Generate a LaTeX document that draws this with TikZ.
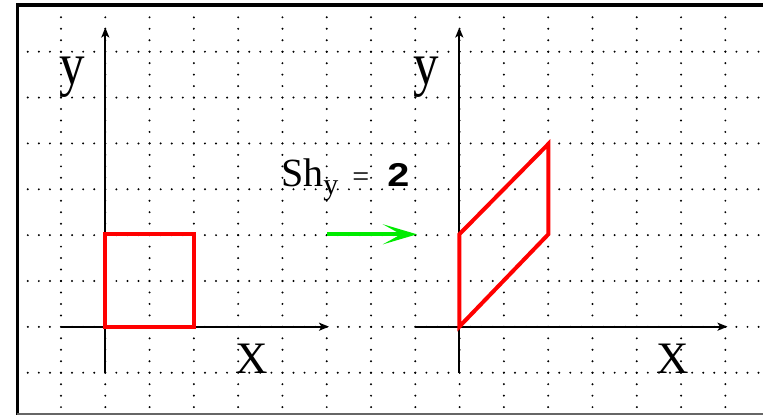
\documentclass[tikz,border=0pt]{standalone}
\usepackage{fontspec}
\setmainfont{Liberation Serif}
\newfontfamily\sansb{Liberation Sans}
\usetikzlibrary{arrows.meta}
\definecolor{shgreen}{RGB}{0,235,0}
\begin{document}
\begin{tikzpicture}[x=1pt,y=-1pt,
  gdot/.style={fill=black},
  axisline/.style={line width=2.2pt,-{Stealth[length=10pt,width=8pt,inset=2.5pt]}},
  redshape/.style={draw=red,line width=4pt,line join=miter},
  biglabel/.style={inner sep=0pt,anchor=center},
  moveArrow/.style={draw=shgreen,line width=3.8pt,-{Stealth[length=34pt,width=20pt,inset=18pt]}}]
\useasboundingbox (0,0) rectangle (763,416);
\fill[white] (0,0) rectangle (763,416);
% frame
\draw[line width=4pt] (16,5.3) -- (763,5.3);
\draw[line width=2.4pt] (17.3,3.3) -- (17.3,415);
\draw[line width=2pt,black!60] (16.5,414) -- (763,414);
% dotted grid
\foreach \i in {0,...,15}{
  \pgfmathsetmacro\xx{61+44.29*\i}
  \foreach \k in {-3,...,31}{
    \fill[gdot] (\xx,{51.7+45.86*\k/4}) circle (1.1);
  }
}
\foreach \j in {0,...,7}{
  \pgfmathsetmacro\yy{51.7+45.86*\j}
  \foreach \k in {-3,...,63}{
    \fill[gdot] ({61+44.29*\k/4},\yy) circle (1.1);
  }
}
% axes (left)
\coordinate (LyB) at (105.3,372.7);
\coordinate (LyT) at (105.3,27.5);
\coordinate (LxL) at (61,326.7);
\coordinate (LxR) at (329,326.7);
% axes (right)
\coordinate (RyB) at (459.3,372.7);
\coordinate (RyT) at (459.3,27.5);
\coordinate (RxL) at (415.7,326.7);
\coordinate (RxR) at (727.5,326.7);
\draw[axisline] (LyB) -- (LyT);
\draw[axisline] (LxL) -- (LxR);
\draw[axisline] (RyB) -- (RyT);
\draw[axisline] (RxL) -- (RxR);
% red shapes
\coordinate (SqA) at (105.3,326.7);
\coordinate (SqB) at (194,326.7);
\coordinate (SqC) at (194,234.3);
\coordinate (SqD) at (105.3,234.3);
\draw[redshape] (SqA) -- (SqB) -- (SqC) -- (SqD) -- cycle;
\coordinate (PaA) at (459.3,326.7);
\coordinate (PaB) at (548.3,234.3);
\coordinate (PaC) at (548.3,144);
\coordinate (PaD) at (459.3,234.3);
\draw[redshape] (PaA) -- (PaB) -- (PaC) -- (PaD) -- cycle;
% green arrow
\coordinate (GaS) at (327,234.3);
\coordinate (GaE) at (417,234.3);
\draw[moveArrow] (GaS) -- (GaE);
% labels
\node[biglabel] (ly) at (72.5,77.5) {\scalebox{0.85}[1]{\fontsize{60}{60}\selectfont y}};
\node[biglabel] (ry) at (426.5,77.5) {\scalebox{0.85}[1]{\fontsize{60}{60}\selectfont y}};
\node[biglabel] (lx) at (251.7,358.3) {\fontsize{45}{45}\selectfont X};
\node[biglabel] (rx) at (672.5,358.3) {\fontsize{45}{45}\selectfont X};
\node[inner sep=0pt,anchor=base west] (shear) at (281,186.7)
  {{\fontsize{40}{40}\selectfont Sh}\raisebox{-8pt}{\fontsize{30}{30}\selectfont y}\hspace{14pt}{\fontsize{30}{30}\selectfont =}\hspace{18pt}\scalebox{1.2}[1]{\sansb\bfseries\fontsize{33}{33}\selectfont 2}};
\end{tikzpicture}
\end{document}
